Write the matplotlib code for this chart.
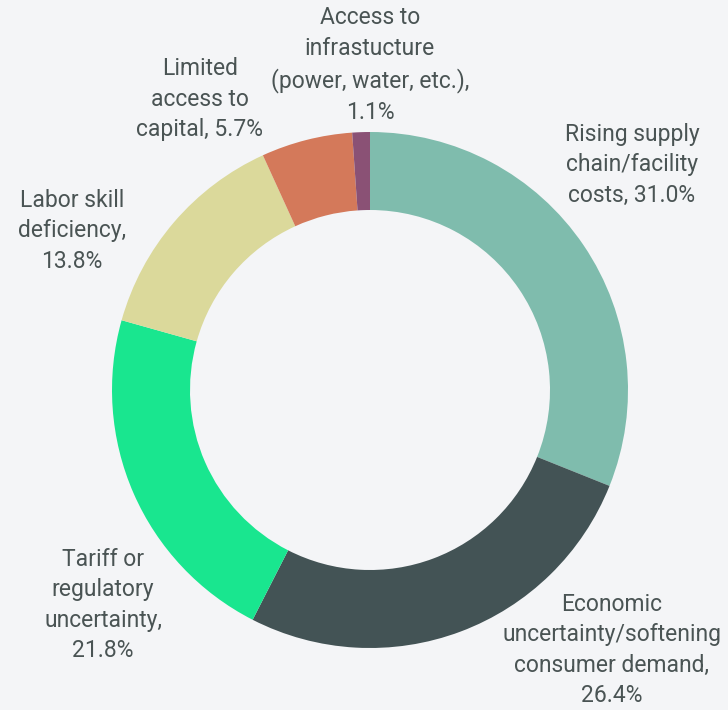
import matplotlib.pyplot as plt

# survey shares (percent of respondents)
labels = [
    "Rising supply\nchain/facility\ncosts",
    "Economic\nuncertainty/softening\nconsumer demand",
    "Tariff or\nregulatory\nuncertainty",
    "Labor skill\ndeficiency",
    "Limited\naccess to\ncapital",
    "Access to\ninfrastucture\n(power, water, etc.)",
]
shares = [31.0, 26.4, 21.8, 13.8, 5.7, 1.1]
colors = ["#7fbcad", "#435355", "#19e68f", "#dbd99b", "#d4795a", "#8a5175"]

# where each label's text block sits (pixels, y from top)
label_pos = [(632, 165), (612, 650), (103, 605), (72, 231), (200, 99), (370, 65)]
# whether the value goes on its own line
value_newline = [False, True, True, True, False, True]

bg = "#f4f5f7"
fig = plt.figure(figsize=(7.28, 7.10), dpi=100, facecolor=bg)
ax = fig.add_axes([0, 0, 1, 1])
ax.set_facecolor(bg)

cx, cy, r = 370, 710 - 390, 258
ax.pie(shares, colors=colors, startangle=90, counterclock=False,
       radius=r, center=(cx, cy), frame=True,
       wedgeprops=dict(width=78, linewidth=0))
ax.set_xlim(0, 728)
ax.set_ylim(0, 710)
ax.set_aspect("equal")
ax.axis("off")

for lab, v, (x, y), nl in zip(labels, shares, label_pos, value_newline):
    sep = ",\n" if nl else ", "
    ax.text(x, 710 - y, f"{lab}{sep}{v:.1f}%", ha="center", va="center",
            fontsize=16.5, family="Roboto", color="#4a5454", linespacing=1.42)

fig.savefig("out.png", dpi=100, facecolor=bg)
